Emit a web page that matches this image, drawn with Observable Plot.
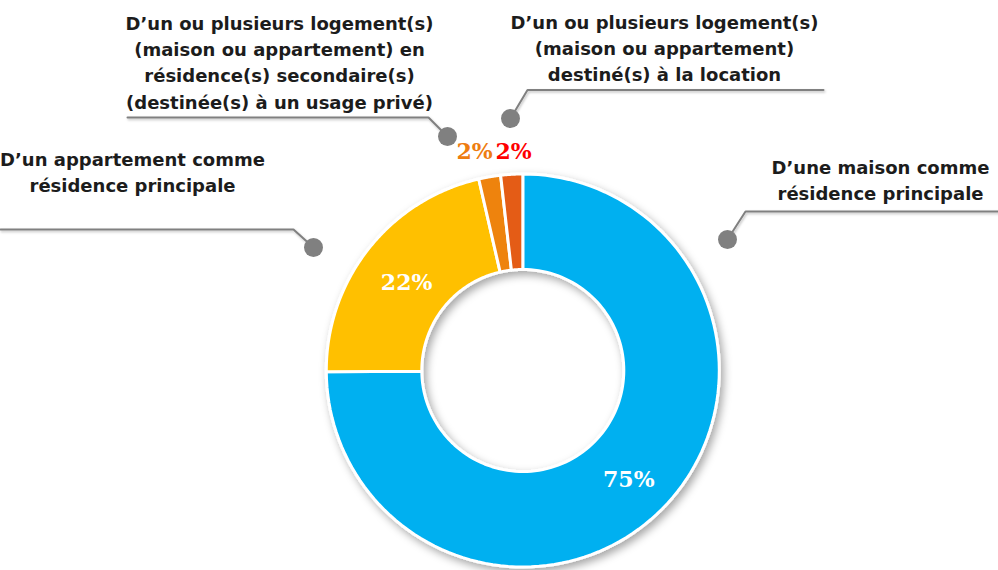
<!DOCTYPE html>
<html>
<head>
<meta charset="utf-8">
<script src="https://cdn.jsdelivr.net/npm/d3@7"></script>
<script src="https://cdn.jsdelivr.net/npm/@observablehq/plot@0.6"></script>
<style>
  html, body { margin: 0; padding: 0; background: #fff; }
  #chart { width: 998px; height: 570px; overflow: hidden; }
</style>
</head>
<body>
<div id="chart"></div>
<script>
// ---- data ----
const categories = [
  "D’une maison comme\nrésidence principale",
  "D’un appartement comme\nrésidence principale",
  "D’un ou plusieurs logement(s)\n(maison ou appartement) en\nrésidence(s) secondaire(s)\n(destinée(s) à un usage privé)",
  "D’un ou plusieurs logement(s)\n(maison ou appartement)\ndestiné(s) à la location"
];
const values = [74.9, 21.5, 1.8, 1.8];
const sliceColors = ["#00B0F0", "#FFC000", "#EE8310", "#E45C12"];
const pctColors = ["#FFFFFF", "#FFFFFF", "#EE7D10", "#FF0000"];

// ---- layout ----
const W = 998, H = 570;
const cx = 522.8, cy = 370.5, R = 196.5, r0 = 101;
const labelPos = [[880, 178], [132, 170.5], [279, 60.5], [664, 46]];
const leaderPts = [
  [[998, 211], [745, 211], [727, 239]],
  [[0, 229], [293, 229], [313, 247]],
  [[127, 117], [428, 117], [447, 136]],
  [[823, 89.5], [527, 89.5], [510, 118]]
];
const smallPctPos = {2: [474, 151], 3: [513, 151]};

// ---- derived geometry ----
const arcs = d3.pie().sort(null).value(v => v)(values);
const ring = [];
arcs.forEach((a, i) => {
  const n = 120;
  for (let k = 0; k <= n; k++) {
    const t = a.startAngle + (a.endAngle - a.startAngle) * k / n;
    ring.push({
      cat: categories[i],
      ox: cx + R * Math.sin(t), oy: cy - R * Math.cos(t),
      ix: cx + r0 * Math.sin(t), iy: cy - r0 * Math.cos(t)
    });
  }
});
const pctData = arcs.map((a, i) => {
  const m = (a.startAngle + a.endAngle) / 2, rm = (R + r0) / 2;
  const p = smallPctPos[i] || [cx + rm * Math.sin(m), cy - rm * Math.cos(m) + 4];
  return {x: p[0], y: p[1], text: Math.round(values[i]) + "%", color: pctColors[i]};
});
const leaders = [];
leaderPts.forEach((pts, i) => pts.forEach(p => leaders.push({i, x: p[0], y: p[1]})));
const dots = leaderPts.map((pts, i) => ({x: pts[2][0], y: pts[2][1]}));

const svg = Plot.plot({
  width: W, height: H,
  margin: 0,
  x: {domain: [0, W], range: [0, W], axis: null},
  y: {domain: [0, H], range: [0, H], axis: null},
  color: {domain: categories, range: sliceColors},
  style: {background: "#fff"},
  marks: [
    Plot.area(ring, {x1: "ox", y1: "oy", x2: "ix", y2: "iy", z: "cat", fill: "cat", stroke: "#fff", strokeWidth: 3, strokeLinejoin: "miter"}),
    Plot.line(leaders, {x: "x", y: "y", z: "i", stroke: "#808080", strokeWidth: 2}),
    Plot.dot(dots, {x: "x", y: "y", r: 9.5, fill: "#808080", stroke: "none"}),
    Plot.text(pctData, {x: "x", y: "y", text: "text", fill: d => d.color, fontSize: 22, fontWeight: "bold", fontFamily: "DejaVu Serif", textAnchor: "middle"}),
    Plot.text(categories, {x: (d, i) => labelPos[i][0], y: (d, i) => labelPos[i][1], text: d => d, fill: "#1c1c1c", fontSize: 18, fontWeight: "bold", fontFamily: "DejaVu Sans", lineHeight: 1.45, textAnchor: "middle"})
  ]
});

// drop shadow on the ring
const ns = "http://www.w3.org/2000/svg";
const defs = document.createElementNS(ns, "defs");
defs.innerHTML = '<filter id="ringShadow" x="-20%" y="-20%" width="140%" height="140%"><feDropShadow dx="3" dy="4" stdDeviation="4" flood-color="#000" flood-opacity="0.35"/></filter>' +
  '<filter id="lineShadow" x="-5%" y="-50%" width="110%" height="200%"><feDropShadow dx="1" dy="1.5" stdDeviation="1" flood-color="#000" flood-opacity="0.25"/></filter>';
svg.insertBefore(defs, svg.firstChild);
const areaG = svg.querySelector('g[aria-label="area"]');
if (areaG) areaG.setAttribute("filter", "url(#ringShadow)");
const lineG = svg.querySelector('g[aria-label="line"]');
if (lineG) lineG.setAttribute("filter", "url(#lineShadow)");

document.getElementById("chart").appendChild(svg);
</script>
</body>
</html>
